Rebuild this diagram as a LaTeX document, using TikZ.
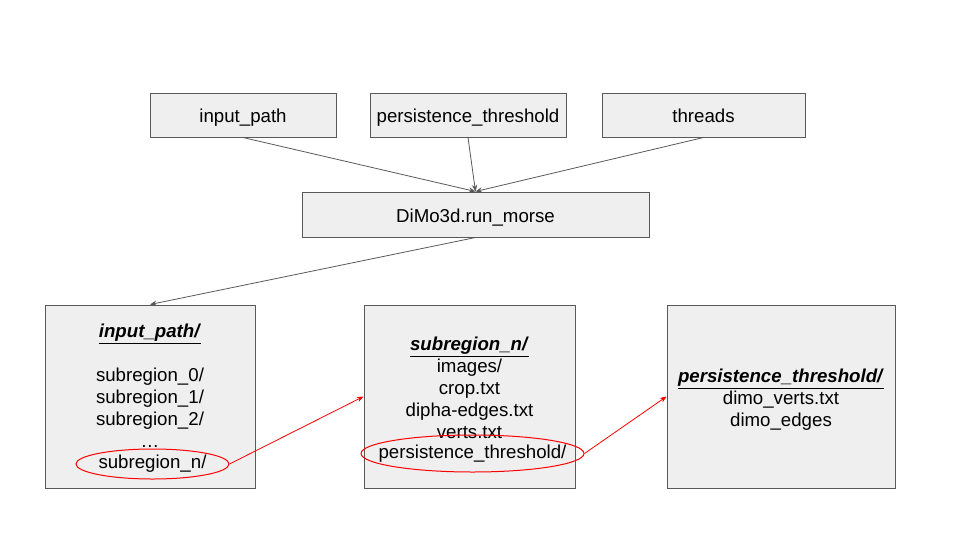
\documentclass[tikz,border=0pt]{standalone}
\usepackage{fontspec}
\setmainfont{Liberation Sans}
\usetikzlibrary{shapes.geometric, arrows.meta, positioning}
\usepackage{xcolor}
\definecolor{boxFill}{HTML}{EFEFEF}
\definecolor{boxLine}{HTML}{595959}
\definecolor{linkGray}{HTML}{595959}
\definecolor{markRed}{HTML}{FF0000}
\tikzset{
    param/.style={rectangle, draw=boxLine, fill=boxFill, line width=0.75pt, minimum height=33pt, text height=14.5pt, text depth=3pt, font=\fontsize{14pt}{16.5pt}\selectfont},
    folder/.style={rectangle, draw=boxLine, fill=boxFill, line width=0.75pt, minimum height=137.25pt},
    listing/.style={align=center, inner sep=0pt, font=\fontsize{14pt}{16.5pt}\selectfont},
    picked/.style={ellipse, draw=markRed, line width=0.75pt, inner sep=0pt, font=\fontsize{14pt}{16.5pt}\selectfont},
    arrow/.style={-{Stealth[length=5pt, width=4pt]}, line width=0.6pt, draw=linkGray},
    redarrow/.style={-{Stealth[length=5pt, width=4pt]}, line width=0.6pt, draw=markRed},
}
\newcommand{\dirhead}[1]{\underline{\textbf{\textit{#1}}}}

\begin{document}
\begin{tikzpicture}[x=0.75pt, y=-0.75pt]
    \useasboundingbox (0,0) rectangle (960,540);

    % inputs
    \node[param, minimum width=139.5pt] (inpath) at (243,115) {input\_path};
    \node[param, minimum width=147pt] (thresh) at (468,115) {persistence\_threshold};
    \node[param, minimum width=152.25pt] (threads) at (703.5,115) {threads};
    \node[param, minimum width=260.25pt, minimum height=33.75pt] (morse) at (475.5,214.5) {DiMo3d.run\_morse};

    % folders
    \node[folder, minimum width=157.5pt] (dirA) at (150,396.5) {};
    \node[folder, minimum width=158.25pt] (dirB) at (469.5,396.5) {};
    \node[folder, minimum width=171pt] (dirC) at (781,396.5) {};

    \node[listing, anchor=north] (listA) at (150,324) {\dirhead{input\_path/}\\[16.5pt]
        subregion\_0/\\ subregion\_1/\\ subregion\_2/\\ …};
    \node[picked, minimum width=114.75pt, minimum height=22.5pt] (selA) at (152.5,464) {subregion\_n/};

    \node[listing, anchor=north] (listB) at (469.5,337) {\dirhead{subregion\_n/}\\
        images/\\ crop.txt\\ dipha-edges.txt\\ verts.txt};
    \node[picked, inner xsep=-11.3pt, minimum height=27.75pt] (selB) at (472.5,453.5) {persistence\_threshold/};

    \node[listing, anchor=north] (listC) at (781,369) {\dirhead{persistence\_threshold/}\\
        dimo\_verts.txt\\ dimo\_edges};

    % links
    \draw[arrow] (inpath.south) -- (morse.north);
    \draw[arrow] (thresh.south) -- (morse.north);
    \draw[arrow] (threads.south) -- (morse.north);
    \draw[arrow] (morse.south) -- (dirA.north);
    \draw[redarrow] (selA.east) -- (dirB.west);
    \draw[redarrow] (selB.east) -- (dirC.west);
\end{tikzpicture}
\end{document}
